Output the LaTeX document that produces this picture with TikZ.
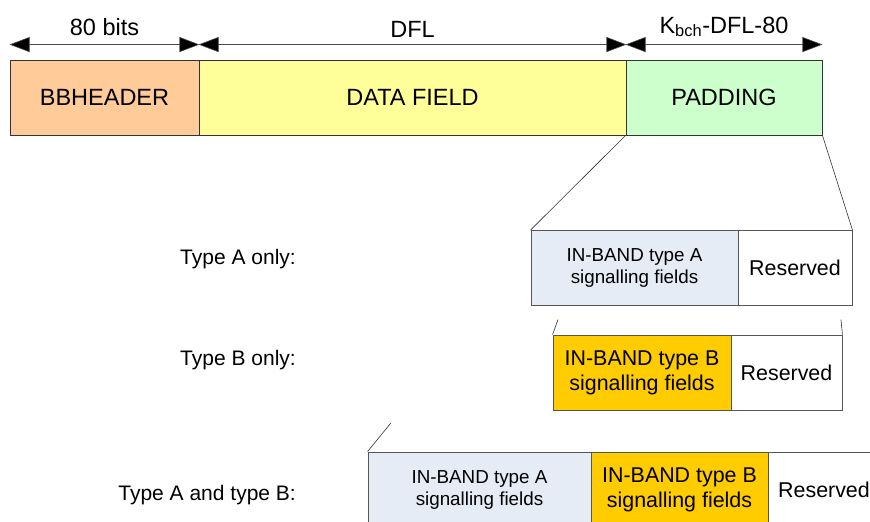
\documentclass[tikz,border=0pt]{standalone}
\usepackage{fontspec}
\setmainfont{Liberation Sans}
\usetikzlibrary{arrows.meta,calc}
\definecolor{hdrfill}{HTML}{FFCC99}
\definecolor{datafill}{HTML}{FFFF99}
\definecolor{padfill}{HTML}{CCFFCC}
\definecolor{afill}{HTML}{E6ECF6}
\definecolor{bfill}{HTML}{FFCC00}
\definecolor{edge}{HTML}{333333}
\definecolor{rowedge}{HTML}{555555}
\begin{document}
\begin{tikzpicture}[x=1pt,y=-1pt,
  field/.style={draw=edge,line width=0.9pt,rectangle,inner sep=0pt,minimum height=75pt,align=center},
  rowfield/.style={field,draw=rowedge},
  big/.style={font=\fontsize{23.5}{28}\selectfont},
  mid/.style={font=\fontsize{21.4}{25}\selectfont},
  small/.style={font=\fontsize{18.8}{22}\selectfont},
  rowlabel/.style={anchor=base east,inner sep=0pt,font=\fontsize{21}{25}\selectfont},
  dimarrow/.style={line width=0.6pt,draw=black!70,{Triangle[length=20pt,width=15pt,fill=black]}-{Triangle[length=20pt,width=15pt,fill=black]}},
  zoomline/.style={line width=0.6pt,draw=black!80}]
\useasboundingbox (0,0) rectangle (870,522);
\clip (0,0) rectangle (870,522);
% top bar
\node[field,big,fill=hdrfill,minimum width=189pt] (bbh) at (104.5,97.5) {BBHEADER};
\node[field,big,fill=datafill,minimum width=427pt] (data) at (412.5,97.5) {DATA FIELD};
\node[field,big,fill=padfill,minimum width=196pt] (pad) at (724,97.5) {PADDING};
% dimension arrows
\draw[dimarrow] ([yshift=15pt]bbh.north west) -- ([yshift=15pt]bbh.north east);
\draw[dimarrow] ([yshift=15pt]data.north west) -- ([yshift=15pt]data.north east);
\draw[dimarrow] ([yshift=15pt]pad.north west) -- ([yshift=15pt]pad.north east);
\node[big,anchor=base,inner sep=0pt] (lbits) at (104.5,35) {80 bits};
\node[big,anchor=base,inner sep=0pt] (ldfl) at (412.5,37) {DFL};
\node[big,anchor=base,inner sep=0pt] (lk) at (724,33) {K\textsubscript{bch}-DFL-80};
% row A
\node[rowfield,small,fill=afill,minimum width=207pt] (inA) at (634.5,268) {IN-BAND type A\\signalling fields};
\node[rowfield,mid,fill=white,minimum width=114pt] (resA) at (795,268) {Reserved};
\draw[zoomline] (pad.south west) -- (inA.north west);
\draw[zoomline] (pad.south east) -- (resA.north east);
% row B
\node[rowfield,mid,fill=bfill,minimum width=178pt] (inB) at (642,372.5) {IN-BAND type B\\signalling fields};
\node[rowfield,mid,fill=white,minimum width=111pt] (resB) at (786.5,372.5) {Reserved};
\coordinate (bl) at ($(pad.south west)!0.925!(inB.north west)$);
\coordinate (br) at ($(pad.south east)!0.925!(resB.north east)$);
\draw[zoomline] (bl) -- (inB.north west);
\draw[zoomline] (br) -- (resB.north east);
% row A+B
\node[rowfield,small,fill=afill,minimum width=223pt] (inA2) at (479.5,489.5) {IN-BAND type A\\signalling fields};
\node[rowfield,mid,fill=bfill,minimum width=177pt] (inB2) at (679.5,489.5) {IN-BAND type B\\signalling fields};
\node[rowfield,mid,fill=white,minimum width=112pt] (res2) at (824,489.5) {Reserved};
\coordinate (cl) at ($(pad.south west)!0.91!(inA2.north west)$);
\draw[zoomline] (cl) -- (inA2.north west);
% row labels
\node[rowlabel] (tA) at (296,264) {Type A only:};
\node[rowlabel] (tB) at (296,365) {Type B only:};
\node[rowlabel] (tAB) at (296,500) {Type A and type B:};
\end{tikzpicture}
\end{document}
